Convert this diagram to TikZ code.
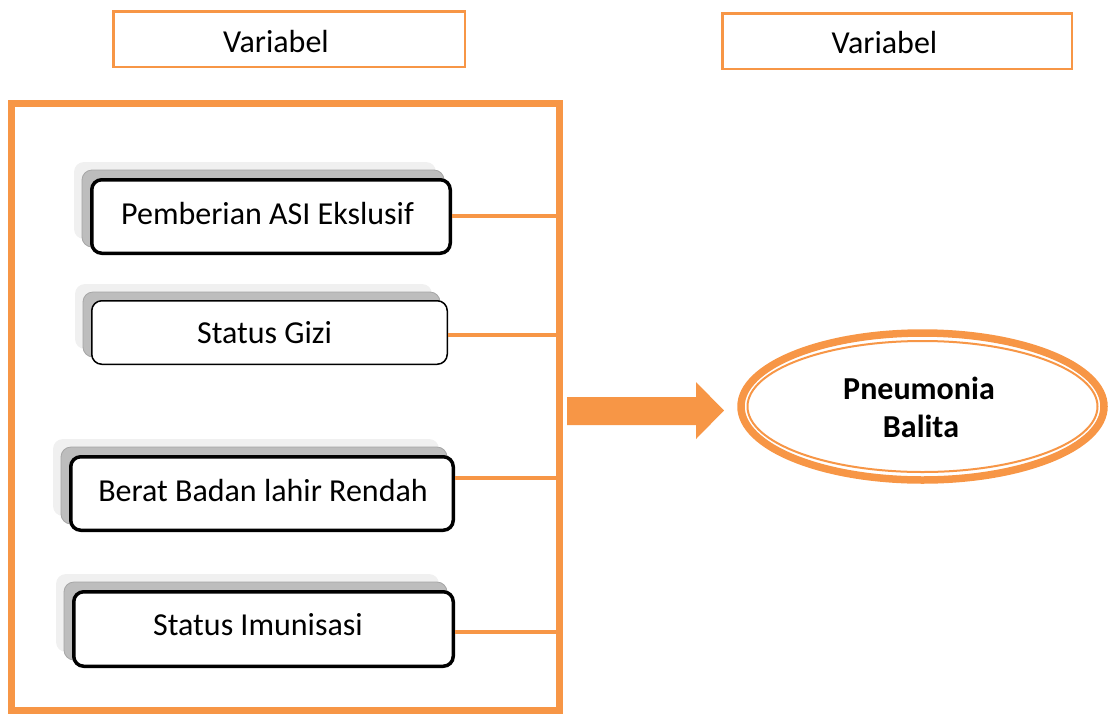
\documentclass[tikz,border=0pt]{standalone}
\usepackage{fontspec}
\setmainfont{Carlito}
\usetikzlibrary{shapes.geometric,backgrounds}
\definecolor{accent}{HTML}{F79646}
\definecolor{shdark}{HTML}{BDBDBD}
\definecolor{shedge}{HTML}{A6A6A6}
\definecolor{shlight}{HTML}{F0F0F0}
\begin{document}
\begin{tikzpicture}[x=1pt,y=-1pt,
  varbox/.style={draw=accent, line width=2.5pt, rectangle, inner sep=0pt},
  factor/.style={draw=black, fill=white, rounded corners=10pt, line width=3.5pt, inner sep=0pt},
  lbl/.style={anchor=base, inner sep=0pt, font=\fontsize{32}{39}\selectfont},
  link/.style={draw=accent, line width=4.5pt},
  frame/.style={draw=accent, line width=7pt, inner sep=0pt, outer sep=0pt}]
\useasboundingbox (0,0) rectangle (1109,713);

% column headers
\node[varbox, minimum width=351.5pt, minimum height=55.5pt] (v1) at (289,39) {};
\node[varbox, minimum width=349.5pt, minimum height=55.5pt] (v2) at (897,41) {};
\node[lbl] (v1t) at (276,52) {Variabel};
\node[lbl] (v2t) at (884.5,53) {Variabel};

% frame holding the independent variables
\node[frame, minimum width=547.5pt, minimum height=607pt] (box) at (285.25,406.5) {};

% independent variables
\node[factor, minimum width=358.5pt, minimum height=73.5pt] (b1) at (271,216.5) {};
\node[factor, line width=1.5pt, minimum width=355.5pt, minimum height=63.5pt] (b2) at (269.5,332.5) {};
\node[factor, minimum width=382.5pt, minimum height=73.5pt] (b3) at (262,493.5) {};
\node[factor, minimum width=379.5pt, minimum height=74.5pt] (b4) at (263.5,629) {};

\node[lbl] (t1) at (267.5,224) {Pemberian ASI Ekslusif};
\node[lbl] (t2) at (264.5,343) {Status Gizi};
\node[lbl] (t3) at (263,501) {Berat Badan lahir Rendah};
\node[lbl] (t4) at (258,635) {Status Imunisasi};

% stacked shadows behind each variable box
\begin{scope}[on background layer]
  \foreach \b in {b1,b2,b3,b4}{
    \fill[shlight, rounded corners=10pt]
      ([shift={(-16,-16)}]\b.north west) rectangle ([shift={(-16,-16)}]\b.south east);
    \filldraw[fill=shdark, draw=shedge, line width=0.8pt, rounded corners=10pt]
      ([shift={(-8,-8)}]\b.north west) rectangle ([shift={(-8,-8)}]\b.south east);
  }
\end{scope}

% links to the right side of the frame
\coordinate (j1) at (559,216);
\coordinate (j2) at (559,335);
\coordinate (j3) at (559,478);
\coordinate (j4) at (559,632);
\draw[link] (b1.east |- j1) -- (j1);
\draw[link] (b2.east |- j2) -- (j2);
\draw[link] (b3.east |- j3) -- (j3);
\draw[link] (b4.east |- j4) -- (j4);

% block arrow
\fill[accent] (567,397) -- (696,397) -- (696,382) -- (724,410.5) -- (696,439)
  -- (696,425) -- (567,425) -- cycle;

% dependent variable: thick outer ring with a thin inner ring
\node[ellipse, draw=accent, fill=white, line width=7.5pt, inner sep=0pt,
  minimum width=363pt, minimum height=147pt] (pb) at (922.5,406.5) {};
\node[ellipse, draw=accent, line width=2pt, inner sep=0pt,
  minimum width=350pt, minimum height=131pt] (pbin) at (pb.center) {};
\node[lbl, font=\fontsize{32}{39}\selectfont\bfseries] (pbt1) at (919,399) {Pneumonia};
\node[lbl, font=\fontsize{32}{39}\selectfont\bfseries] (pbt2) at (921,437) {Balita};
\end{tikzpicture}
\end{document}
